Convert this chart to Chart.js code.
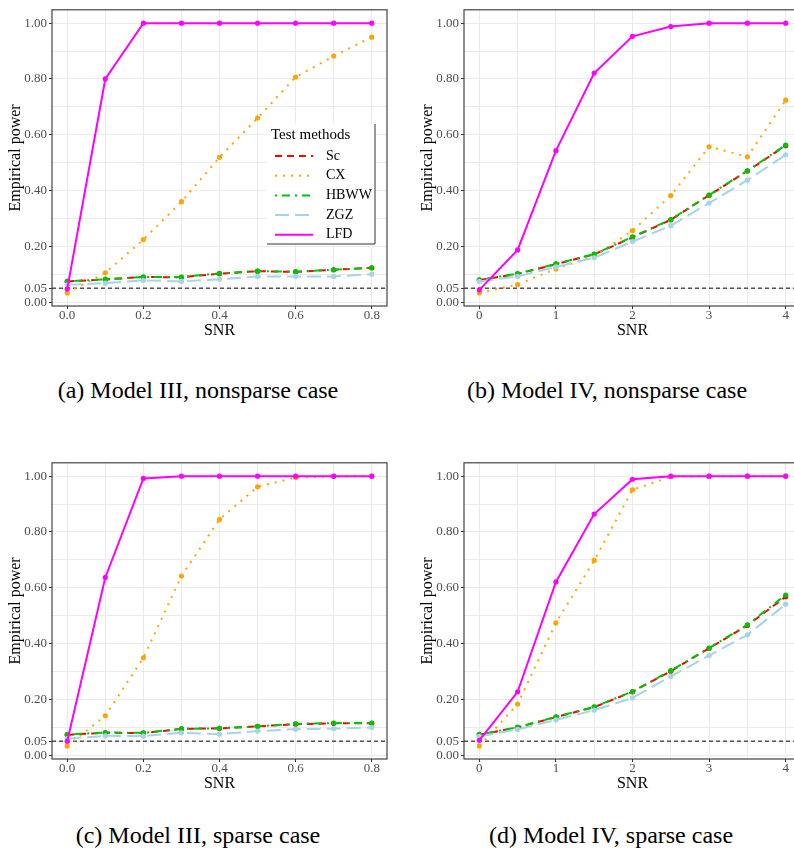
<!DOCTYPE html>
<html>
<head>
<meta charset="utf-8">
<script src="https://cdn.jsdelivr.net/npm/chart.js@4.4.1/dist/chart.umd.min.js"></script>
<style>
  html, body {
    margin: 0;
    padding: 0;
    background: #fff;
    width: 794px;
    height: 859px;
    overflow: hidden;
  }
  .panel {
    position: absolute;
  }
  .caption {
    position: absolute;
    font-family: "Liberation Serif", "Times New Roman", serif;
    font-size: 24px;
    line-height: 24px;
    color: #000;
    white-space: nowrap;
    transform: translateX(-50%);
  }
</style>
</head>
<body>
<canvas id="chartA" class="panel" width="400" height="340" style="left:0;top:0"></canvas>
<canvas id="chartB" class="panel" width="400" height="340" style="left:412px;top:0"></canvas>
<canvas id="chartC" class="panel" width="400" height="340" style="left:0;top:453px"></canvas>
<canvas id="chartD" class="panel" width="400" height="340" style="left:412px;top:453px"></canvas>

<div class="caption" style="left:198px;top:378px">(a) Model III, nonsparse case</div>
<div class="caption" style="left:607px;top:378px">(b) Model IV, nonsparse case</div>
<div class="caption" style="left:198px;top:823px">(c) Model III, sparse case</div>
<div class="caption" style="left:611px;top:823px">(d) Model IV, sparse case</div>

<script>
const FONT = '"Liberation Serif", "Times New Roman", serif';

// x values (SNR)
const snrModel3 = [0, 0.1, 0.2, 0.3, 0.4, 0.5, 0.6, 0.7, 0.8];
const snrModel4 = [0, 0.5, 1, 1.5, 2, 2.5, 3, 3.5, 4];
const xLabelsModel3 = [0, 0.2, 0.4, 0.6, 0.8];
const xLabelsModel4 = [0, 1, 2, 3, 4];

// y grid / tick labels
const yGrid = [0, 0.05, 0.1, 0.2, 0.3, 0.4, 0.5, 0.6, 0.7, 0.8, 0.9, 1.0];
const yLabels = [0, 0.05, 0.2, 0.4, 0.6, 0.8, 1.0];

const methods = ['Sc', 'CX', 'HBWW', 'ZGZ', 'LFD'];
const methodColors = ['#ff0000', '#ffa500', '#00c400', '#a6d2ec', '#ff00ff'];
const methodDashes = [[7, 5], [2, 6], [2, 5, 8, 5], [14, 6], []];
const methodOrder = [5, 4, 3, 2, 1];

// (a) Model III, nonsparse
const scA   = [0.074, 0.081, 0.090, 0.089, 0.102, 0.111, 0.108, 0.116, 0.123];
const cxA   = [0.033, 0.105, 0.224, 0.360, 0.519, 0.660, 0.807, 0.882, 0.950];
const hbwwA = [0.074, 0.082, 0.090, 0.090, 0.103, 0.111, 0.109, 0.116, 0.123];
const zgzA  = [0.062, 0.068, 0.078, 0.074, 0.082, 0.092, 0.092, 0.092, 0.100];
const lfdA  = [0.047, 0.800, 1.000, 1.000, 1.000, 1.000, 1.000, 1.000, 1.000];

// (b) Model IV, nonsparse
const scB   = [0.079, 0.101, 0.136, 0.171, 0.232, 0.295, 0.383, 0.470, 0.561];
const cxB   = [0.033, 0.063, 0.119, 0.165, 0.256, 0.382, 0.557, 0.521, 0.724];
const hbwwB = [0.080, 0.102, 0.137, 0.172, 0.234, 0.296, 0.384, 0.471, 0.563];
const zgzB  = [0.074, 0.092, 0.126, 0.159, 0.217, 0.274, 0.355, 0.437, 0.528];
const lfdB  = [0.044, 0.187, 0.543, 0.821, 0.953, 0.988, 1.000, 1.000, 1.000];

// (c) Model III, sparse
const scC   = [0.073, 0.080, 0.079, 0.094, 0.096, 0.103, 0.111, 0.114, 0.114];
const cxC   = [0.033, 0.141, 0.349, 0.642, 0.845, 0.962, 0.995, 0.999, 1.000];
const hbwwC = [0.074, 0.081, 0.080, 0.094, 0.096, 0.103, 0.112, 0.115, 0.115];
const zgzC  = [0.059, 0.069, 0.068, 0.080, 0.075, 0.086, 0.093, 0.095, 0.099];
const lfdC  = [0.050, 0.637, 0.992, 1.000, 1.000, 1.000, 1.000, 1.000, 1.000];

// (d) Model IV, sparse
const scD   = [0.073, 0.099, 0.136, 0.172, 0.227, 0.301, 0.383, 0.465, 0.568];
const cxD   = [0.033, 0.183, 0.474, 0.698, 0.951, 0.998, 1.000, 1.000, 1.000];
const hbwwD = [0.074, 0.100, 0.137, 0.173, 0.228, 0.303, 0.384, 0.467, 0.574];
const zgzD  = [0.067, 0.092, 0.126, 0.161, 0.205, 0.282, 0.357, 0.431, 0.541];
const lfdD  = [0.053, 0.227, 0.621, 0.864, 0.989, 1.000, 1.000, 1.000, 1.000];

const refLevel = 0.05;

// dashed horizontal line at the nominal level
const refLinePlugin = {
  id: 'refLine',
  beforeDatasetsDraw(chart) {
    const { ctx, chartArea } = chart;
    const y = chart.scales.y.getPixelForValue(refLevel);
    ctx.save();
    ctx.strokeStyle = '#000';
    ctx.lineWidth = 1;
    ctx.setLineDash([4, 3]);
    ctx.beginPath();
    ctx.moveTo(chartArea.left, y);
    ctx.lineTo(chartArea.right, y);
    ctx.stroke();
    ctx.restore();
  },
};

// panel border, like theme_bw
const borderPlugin = {
  id: 'panelBorder',
  afterDatasetsDraw(chart) {
    const { ctx, chartArea } = chart;
    ctx.save();
    ctx.strokeStyle = '#444';
    ctx.lineWidth = 1.2;
    ctx.strokeRect(chartArea.left, chartArea.top, chartArea.right - chartArea.left, chartArea.bottom - chartArea.top);
    ctx.restore();
  },
};

// legend box inside panel (a)
const methodLegendPlugin = {
  id: 'methodLegend',
  afterDraw(chart, args, opts) {
    if (!opts.show) return;
    const ctx = chart.ctx;
    const b = opts.box;
    ctx.save();
    ctx.fillStyle = '#fff';
    ctx.fillRect(b.left, b.top, b.right - b.left, b.bottom - b.top);
    ctx.strokeStyle = '#333';
    ctx.lineWidth = 1;
    ctx.beginPath();
    ctx.moveTo(b.right, b.top);
    ctx.lineTo(b.right, b.bottom);
    ctx.lineTo(b.left, b.bottom);
    ctx.stroke();

    ctx.fillStyle = '#000';
    ctx.textBaseline = 'middle';
    ctx.font = `15px ${FONT}`;
    ctx.fillText('Test methods', b.left + 4, b.top + 11);

    ctx.font = `14px ${FONT}`;
    chart.data.datasets.forEach((ds, i) => {
      const y = b.top + 32 + i * 19.7;
      ctx.strokeStyle = ds.borderColor;
      ctx.lineWidth = 2;
      ctx.setLineDash(ds.borderDash || []);
      ctx.beginPath();
      ctx.moveTo(b.left + 8, y);
      ctx.lineTo(b.left + 46, y);
      ctx.stroke();
      ctx.setLineDash([]);
      ctx.fillStyle = '#000';
      ctx.fillText(ds.label, b.left + 59, y);
    });
    ctx.restore();
  },
};

function makeChart(id, snr, series, xLabels, xFmt, xPad, padRight, legend) {
  const datasets = methods.map((name, i) => ({
    label: name,
    data: snr.map((x, k) => ({ x, y: series[i][k] })),
    borderColor: methodColors[i],
    backgroundColor: methodColors[i],
    borderDash: methodDashes[i],
    borderWidth: 2,
    pointRadius: 2.6,
    pointBorderWidth: 0,
    pointBackgroundColor: methodColors[i],
    tension: 0,
    order: methodOrder[i],
  }));

  const xMin = snr[0] - xPad;
  const xMax = snr[snr.length - 1] + xPad;

  return new Chart(document.getElementById(id), {
    type: 'line',
    data: { datasets },
    options: {
      responsive: false,
      animation: false,
      layout: { padding: { left: 0, top: 4, right: padRight, bottom: 0 } },
      plugins: {
        legend: { display: false },
        tooltip: { enabled: false },
        methodLegend: legend,
      },
      scales: {
        x: {
          type: 'linear',
          min: xMin,
          max: xMax,
          afterBuildTicks: (axis) => { axis.ticks = snr.map((v) => ({ value: v })); },
          afterFit: (axis) => { axis.height = 34; },
          border: { display: false },
          grid: {
            color: '#ebebeb',
            lineWidth: 1,
            tickLength: 3,
            tickColor: (c) => (xLabels.includes(c.tick.value) ? '#333' : 'rgba(0,0,0,0)'),
          },
          ticks: {
            autoSkip: false,
            maxRotation: 0,
            padding: 0,
            color: '#4d4d4d',
            font: { family: FONT, size: 13, lineHeight: 1 },
            callback: (v) => (xLabels.includes(v) ? xFmt(v) : ''),
          },
          title: {
            display: true,
            text: 'SNR',
            color: '#000',
            font: { family: FONT, size: 16, lineHeight: 1.2 },
            padding: { top: 0, bottom: 0 },
          },
        },
        y: {
          type: 'linear',
          min: -0.014,
          max: 1.048,
          afterBuildTicks: (axis) => { axis.ticks = yGrid.map((v) => ({ value: v })); },
          afterFit: (axis) => { axis.width = 52; },
          border: { display: false },
          grid: {
            color: '#ebebeb',
            lineWidth: 1,
            tickLength: 3,
            tickColor: (c) => (yLabels.includes(c.tick.value) ? '#333' : 'rgba(0,0,0,0)'),
          },
          ticks: {
            autoSkip: false,
            padding: 2,
            color: '#4d4d4d',
            font: { family: FONT, size: 13 },
            callback: (v) => (yLabels.includes(v) ? v.toFixed(2) : ''),
          },
          title: {
            display: true,
            text: 'Empirical power',
            color: '#000',
            font: { family: FONT, size: 16, lineHeight: 1.2 },
            padding: { top: 6, bottom: 0 },
          },
        },
      },
    },
    plugins: [refLinePlugin, borderPlugin, methodLegendPlugin],
  });
}

const fmt3 = (v) => v.toFixed(1);
const fmt4 = (v) => String(v);
const noLegend = { show: false };

makeChart('chartA', snrModel3, [scA, cxA, hbwwA, zgzA, lfdA], xLabelsModel3, fmt3, 0.04, 13,
  { show: true, box: { left: 267, top: 124, right: 375, bottom: 244 } });
makeChart('chartB', snrModel4, [scB, cxB, hbwwB, zgzB, lfdB], xLabelsModel4, fmt4, 0.2, 11, noLegend);
makeChart('chartC', snrModel3, [scC, cxC, hbwwC, zgzC, lfdC], xLabelsModel3, fmt3, 0.04, 13, noLegend);
makeChart('chartD', snrModel4, [scD, cxD, hbwwD, zgzD, lfdD], xLabelsModel4, fmt4, 0.2, 11, noLegend);
</script>
</body>
</html>
